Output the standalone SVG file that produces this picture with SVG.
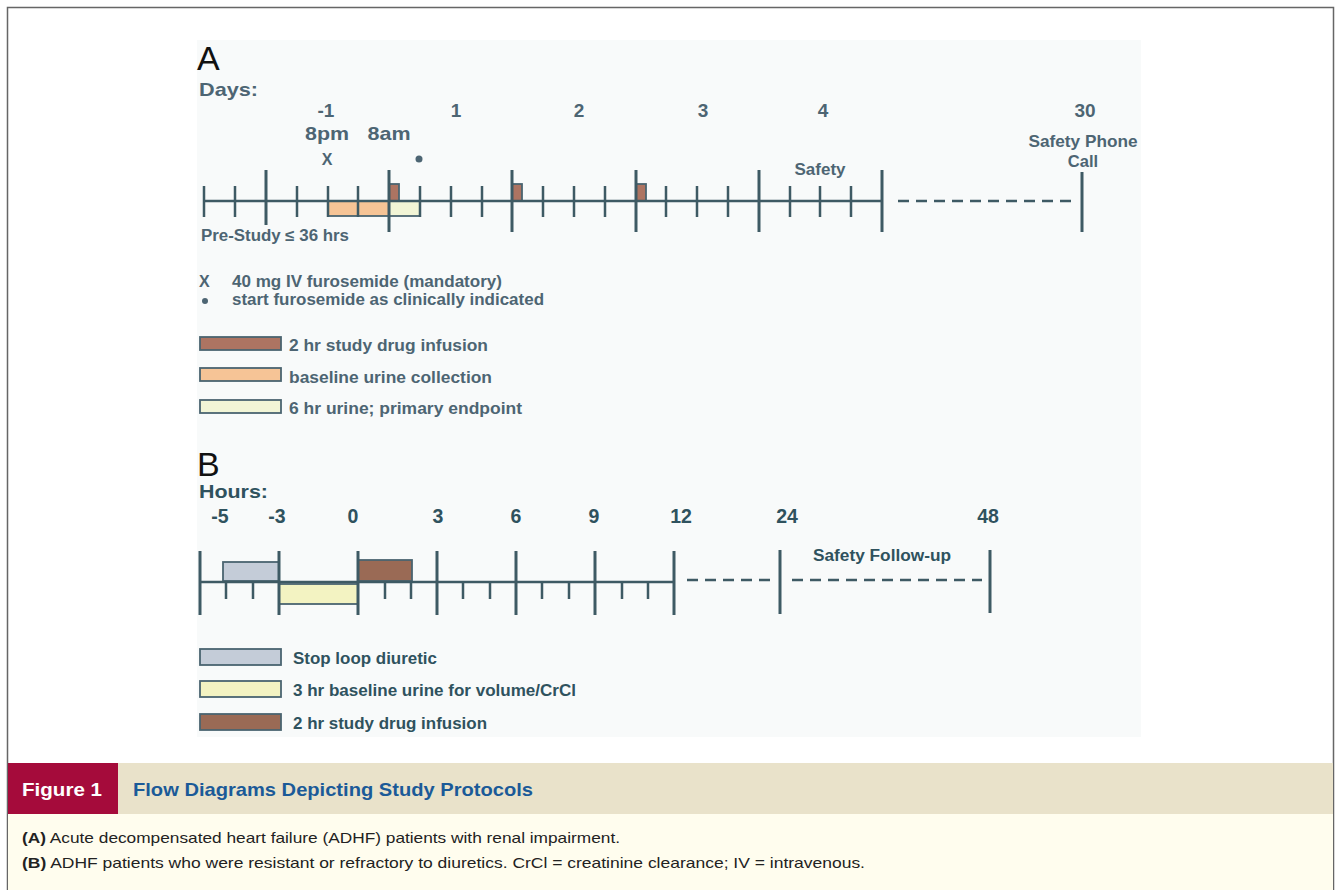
<svg xmlns="http://www.w3.org/2000/svg" width="1339" height="890" viewBox="0 0 1339 890">
<defs>
<style>
.t{font-family:"Liberation Sans",Arial,sans-serif;font-weight:bold;fill:#4d6573}
.tb{font-family:"Liberation Sans",Arial,sans-serif;font-weight:bold;fill:#2f525e}
.big{font-family:"Liberation Sans",Arial,sans-serif;fill:#111;font-size:34px}
.ax{stroke:#3e5a64;stroke-width:2.5;fill:none}
.mj{stroke:#3e5a64;stroke-width:3;fill:none}
.dash{stroke:#3e5a64;stroke-width:2.5;fill:none;stroke-dasharray:11 7}
.bx{stroke:#4a6470;stroke-width:1.8}
.cap{font-family:"Liberation Sans",Arial,sans-serif;font-size:15px;fill:#222}
</style>
</defs>
<rect x="0" y="0" width="1339" height="890" fill="#ffffff"/>
<rect x="197" y="40" width="944" height="697" fill="#f8fafa"/>
<rect x="7.5" y="7.5" width="1326" height="900" fill="none" stroke="#666" stroke-width="1.5"/>

<g id="panelA">
<text class="big" x="197" y="70">A</text>
<text class="t" x="199" y="96" font-size="19" textLength="59" lengthAdjust="spacingAndGlyphs">Days:</text>
<g id="A-day-labels" class="t" font-size="19" text-anchor="middle">
<text x="326" y="117">-1</text>
<text x="456" y="117">1</text>
<text x="579" y="117">2</text>
<text x="703" y="117">3</text>
<text x="823" y="117">4</text>
<text x="1085" y="117">30</text>
<text x="327" y="140" textLength="44" lengthAdjust="spacingAndGlyphs">8pm</text>
<text x="389" y="140" textLength="43" lengthAdjust="spacingAndGlyphs">8am</text>
<text x="327" y="165" font-size="16">X</text>
</g>
<circle cx="419" cy="159" r="3.5" fill="#4d6573"/>
<g class="t" font-size="16.5" text-anchor="middle">
<text x="820" y="175" textLength="51" lengthAdjust="spacingAndGlyphs">Safety</text>
<text x="1083" y="147" textLength="109" lengthAdjust="spacingAndGlyphs">Safety Phone</text>
<text x="1083" y="167">Call</text>
</g>
<text class="t" x="201" y="241" font-size="16" textLength="148" lengthAdjust="spacingAndGlyphs">Pre-Study ≤ 36 hrs</text>

<g id="A-boxes">
<rect class="bx" x="328" y="201" width="61" height="15" fill="#f6c496"/>
<rect class="bx" x="389" y="201" width="31" height="15" fill="#f2f5d6"/>
<rect class="bx" x="389" y="184" width="10" height="17" fill="#ad7462"/>
<rect class="bx" x="512" y="184" width="10" height="17" fill="#ad7462"/>
<rect class="bx" x="636" y="184" width="10" height="17" fill="#ad7462"/>
</g>
<g id="A-axis">
<line class="ax" x1="204" y1="201" x2="882" y2="201"/>
<path class="ax" d="M204 186V217M235 186V217M297 186V217M328 186V217M358 186V217M420 186V217M451 186V217M482 186V217M543 186V217M574 186V217M605 186V217M666 186V217M697 186V217M728 186V217M790 186V217M820 186V217M851 186V217"/>
<path class="mj" d="M266 170V225M389 170V232M512 170V232M636 170V232M759 170V232M882 170V232M1082 172V232"/>
<line class="dash" x1="898" y1="201" x2="1078" y2="201"/>
</g>

<g id="A-legend">
<text class="t" x="199" y="287" font-size="16">X</text>
<text class="t" x="232" y="287" font-size="17" textLength="270" lengthAdjust="spacingAndGlyphs">40 mg IV furosemide (mandatory)</text>
<circle cx="205" cy="301" r="3" fill="#4d6573"/>
<text class="t" x="232" y="305" font-size="17" textLength="312" lengthAdjust="spacingAndGlyphs">start furosemide as clinically indicated</text>
<rect class="bx" x="200" y="337" width="81" height="13" fill="#ad7462"/>
<text class="t" x="289" y="351" font-size="17" textLength="199" lengthAdjust="spacingAndGlyphs">2 hr study drug infusion</text>
<rect class="bx" x="200" y="368" width="81" height="13" fill="#f6c496"/>
<text class="t" x="289" y="383" font-size="17" textLength="203" lengthAdjust="spacingAndGlyphs">baseline urine collection</text>
<rect class="bx" x="200" y="400" width="81" height="13" fill="#f2f5d6"/>
<text class="t" x="289" y="414" font-size="17" textLength="233" lengthAdjust="spacingAndGlyphs">6 hr urine; primary endpoint</text>
</g>
</g>

<g id="panelB">
<text class="big" x="197" y="476">B</text>
<text class="tb" x="199" y="498" font-size="19" textLength="69" lengthAdjust="spacingAndGlyphs">Hours:</text>
<g id="B-hour-labels" class="tb" font-size="19.5" text-anchor="middle">
<text x="220" y="523">-5</text>
<text x="277" y="523">-3</text>
<text x="353" y="523">0</text>
<text x="438" y="523">3</text>
<text x="516" y="523">6</text>
<text x="594" y="523">9</text>
<text x="681" y="523">12</text>
<text x="787" y="523">24</text>
<text x="988" y="523">48</text>
</g>
<text class="tb" x="882" y="561" font-size="16" text-anchor="middle" textLength="138" lengthAdjust="spacingAndGlyphs">Safety Follow-up</text>
<g id="B-boxes">
<rect class="bx" x="223" y="562" width="56" height="19" fill="#c4ccd8"/>
<rect class="bx" x="279" y="584" width="79" height="20" fill="#f3f3c2"/>
<rect class="bx" x="358" y="560" width="54" height="21" fill="#9a6a55"/>
</g>
<g id="B-axis">
<line class="ax" x1="200" y1="582" x2="674" y2="582"/>
<path class="ax" d="M226 582V599M253 582V599M385 582V599M411 582V599M463 582V599M490 582V599M542 582V599M569 582V599M622 582V599M648 582V599"/>
<path class="mj" d="M200 551V615M279 551V615M358 551V615M437 551V615M516 551V615M595 551V615M674 551V615M780 550V614M990 550V613"/>
<line class="dash" x1="687" y1="580" x2="774" y2="580"/>
<line class="dash" x1="792" y1="580" x2="982" y2="580"/>
</g>
<g id="B-legend">
<rect class="bx" x="200" y="649" width="81" height="16" fill="#c4ccd8"/>
<text class="tb" x="293" y="664" font-size="17" textLength="144" lengthAdjust="spacingAndGlyphs">Stop loop diuretic</text>
<rect class="bx" x="200" y="681" width="81" height="16" fill="#f3f3c2"/>
<text class="tb" x="293" y="696" font-size="17" textLength="283" lengthAdjust="spacingAndGlyphs">3 hr baseline urine for volume/CrCl</text>
<rect class="bx" x="200" y="714" width="81" height="16" fill="#9a6a55"/>
<text class="tb" x="293" y="729" font-size="17" textLength="194" lengthAdjust="spacingAndGlyphs">2 hr study drug infusion</text>
</g>
</g>

<g id="caption">
<rect x="8" y="763" width="1325" height="51" fill="#e9e2ca"/>
<rect x="8" y="814" width="1325" height="76" fill="#fffdee"/>
<rect x="8" y="763" width="110" height="51" fill="#a50b3b"/>
<text x="22" y="796" font-family="Liberation Sans,Arial,sans-serif" font-weight="bold" font-size="19" fill="#ffffff" textLength="80" lengthAdjust="spacingAndGlyphs">Figure 1</text>
<text x="133" y="796" font-family="Liberation Sans,Arial,sans-serif" font-weight="bold" font-size="19" fill="#1b5a98" textLength="400" lengthAdjust="spacingAndGlyphs">Flow Diagrams Depicting Study Protocols</text>
<text class="cap" x="22" y="843" textLength="598" lengthAdjust="spacingAndGlyphs"><tspan font-weight="bold">(A)</tspan> Acute decompensated heart failure (ADHF) patients with renal impairment.</text>
<text class="cap" x="22" y="868" textLength="843" lengthAdjust="spacingAndGlyphs"><tspan font-weight="bold">(B)</tspan> ADHF patients who were resistant or refractory to diuretics. CrCl = creatinine clearance; IV = intravenous.</text>
</g>
</svg>
